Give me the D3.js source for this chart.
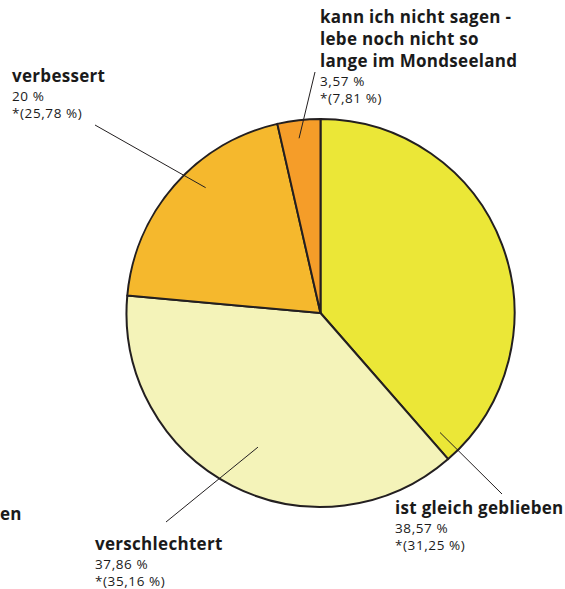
<!DOCTYPE html>
<html><head><meta charset="utf-8">
<script src="https://cdn.jsdelivr.net/npm/d3@7"></script>
<style>
html,body{margin:0;padding:0;background:#fff;}
svg{display:block;}
text{font-family:"Open Sans",sans-serif;fill:#1a1a1a;}
</style></head>
<body>
<svg id="c" width="565" height="589"></svg>
<script>
// data
const categories = ["ist gleich geblieben","verschlechtert","verbessert","kann ich nicht sagen - lebe noch nicht so lange im Mondseeland"];
const titleLines = [["ist gleich geblieben"],["verschlechtert"],["verbessert"],["kann ich nicht sagen -","lebe noch nicht so","lange im Mondseeland"]];
const values = [38.57, 37.86, 20, 3.57];
const valueLabels = ["38,57 %","37,86 %","20 %","3,57 %"];
const compareLabels = ["*(31,25 %)","*(35,16 %)","*(25,78 %)","*(7,81 %)"];
const colors = ["#ebe737","#f4f3b9","#f5b82d","#f59d29"];

// layout (annotation placement)
const cx = 320.5, cy = 313, R = 194;
const labelPos = [ // text x, first-line baseline y
  {x:395, y:514, la:135, lr:169, ex:502, ey:494},
  {x:95,  y:550, la:205, lr:148, ex:166, ey:522},
  {x:12,  y:82,  la:317.5, lr:170, ex:95, ey:125},
  {x:320, y:23,  la:353, lr:176, ex:315, ey:72}
];

const svg = d3.select("#c");
const g = svg.append("g").attr("transform",`translate(${cx},${cy})`);
const pie = d3.pie().sort(null).value(d=>d)(values);
const arc = d3.arc().innerRadius(0).outerRadius(R);
g.selectAll("path").data(pie).join("path")
  .attr("d",arc).attr("fill",(d,i)=>colors[i])
  .attr("stroke","#231f20").attr("stroke-width",2).attr("stroke-linejoin","round");

// leader lines
labelPos.forEach((p,i)=>{
  const a = p.la*Math.PI/180;
  svg.append("line")
    .attr("x1",cx+p.lr*Math.sin(a)).attr("y1",cy-p.lr*Math.cos(a))
    .attr("x2",p.ex).attr("y2",p.ey)
    .attr("stroke","#231f20").attr("stroke-width",1);
});

// labels
labelPos.forEach((p,i)=>{
  let y = p.y;
  titleLines[i].forEach((l,k)=>{
    svg.append("text").attr("x",p.x).attr("y",y).attr("font-weight",700).attr("font-size",17)
      .attr("letter-spacing",0.3).text(l);
    y += 22;
  });
  y = y - 22 + 19;
  svg.append("text").attr("x",p.x).attr("y",y).attr("font-size",13.5).attr("letter-spacing",0.6)
    .attr("fill","#2a2a2a").text(valueLabels[i]);
  svg.append("text").attr("x",p.x).attr("y",y+17).attr("font-size",13.5).attr("letter-spacing",0.6)
    .attr("fill","#2a2a2a").text(compareLabels[i]);
});
// clipped label fragment at left edge
svg.append("text").attr("x",0).attr("y",520).attr("font-weight",700).attr("font-size",17)
  .attr("letter-spacing",0.3).text("en");
</script>
</body></html>
